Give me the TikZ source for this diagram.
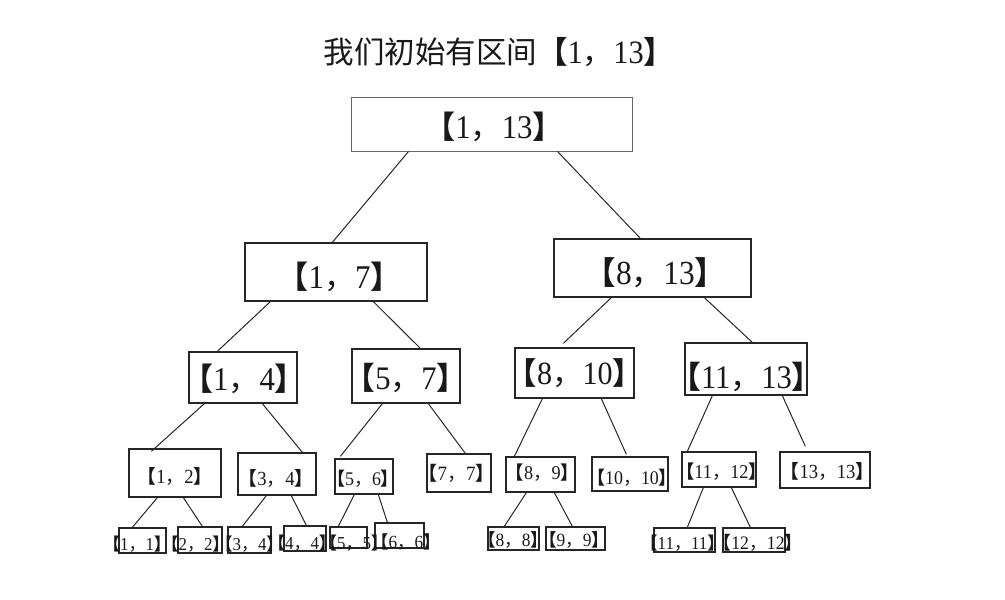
\documentclass[tikz,border=0pt]{standalone}
\usepackage{fontspec}
\newfontfamily\cjk{Noto Sans CJK SC}
\newfontfamily\dig{Liberation Serif}[Scale=1.07,FakeStretch=0.93]
\usetikzlibrary{calc}
\newcommand\iv[2]{{\cjk\bfseries 【}{\dig #1}{\cjk ，}{\dig #2}{\cjk\bfseries 】}}
\newcommand\fs[1]{\fontsize{#1}{#1}\selectfont}
\begin{document}
\begin{tikzpicture}[x=1pt,y=-1pt,
  ibox/.style={draw=black!85,line width=1.3pt,inner sep=0pt,rectangle},
  lbl/.style={inner sep=0pt,text=black!90},
  edge/.style={draw=black!85,line width=1pt}]
\path[use as bounding box] (0,0) rectangle (1005,600);
% title
\node[lbl] (title) at (499,52) {\fs{30.5}{\cjk 我们初始有区间}\iv{1}{13}};
% boxes
\node[ibox,draw=black!60,line width=1pt,minimum width=281pt,minimum height=54pt] (root) at (491.5,124) {};
\node[ibox,minimum width=182pt,minimum height=58pt] (n17) at (336,272) {};
\node[ibox,minimum width=197pt,minimum height=58pt] (n813) at (652.5,268) {};
\node[ibox,minimum width=108pt,minimum height=51pt] (n14) at (243,377.5) {};
\node[ibox,minimum width=108pt,minimum height=54pt] (n57) at (406,376) {};
\node[ibox,minimum width=119pt,minimum height=50pt] (n810) at (574.5,373) {};
\node[ibox,minimum width=122pt,minimum height=52pt] (n1113) at (746,369) {};
\node[ibox,minimum width=92pt,minimum height=48pt] (n12) at (175,473) {};
\node[ibox,minimum width=78pt,minimum height=42pt] (n34) at (277,474) {};
\node[ibox,minimum width=58pt,minimum height=35pt] (n56) at (364,476.5) {};
\node[ibox,minimum width=64pt,minimum height=38pt] (n77) at (459,473) {};
\node[ibox,minimum width=69pt,minimum height=35pt] (n89) at (540.5,474.5) {};
\node[ibox,minimum width=76pt,minimum height=34pt] (n1010) at (630,474) {};
\node[ibox,minimum width=74pt,minimum height=35pt] (n1112) at (719,469.5) {};
\node[ibox,minimum width=90pt,minimum height=36pt] (n1313) at (825,470) {};
\node[ibox,minimum width=47pt,minimum height=25pt] (l11) at (142.5,540.5) {};
\node[ibox,minimum width=44pt,minimum height=26pt] (l22) at (200,540) {};
\node[ibox,minimum width=43pt,minimum height=26pt] (l33) at (249.5,540) {};
\node[ibox,minimum width=42pt,minimum height=25pt] (l44) at (305,538.5) {};
\node[ibox,minimum width=37pt,minimum height=21pt] (l55) at (348.5,537.5) {};
\node[ibox,minimum width=49pt,minimum height=25pt] (l66) at (399.5,535.5) {};
\node[ibox,minimum width=51pt,minimum height=23pt] (l88) at (513.5,538.5) {};
\node[ibox,minimum width=59pt,minimum height=23pt] (l99) at (575.5,538.5) {};
\node[ibox,minimum width=61pt,minimum height=24pt] (l1111) at (684.5,540) {};
\node[ibox,minimum width=62pt,minimum height=24pt] (l1212) at (754,540) {};
% labels
\node[lbl] (troot) at (494,127) {\fs{31}\iv{1}{13}};
\node[lbl] (t17) at (339.5,277) {\fs{31}\iv{1}{7}};
\node[lbl] (t813) at (655.5,273) {\fs{31.5}\iv{8}{13}};
\node[lbl] (t14) at (244,379) {\fs{31}\iv{1}{4}};
\node[lbl] (t57) at (406,378) {\fs{30.7}\iv{5}{7}};
\node[lbl] (t810) at (575,373) {\fs{30.3}\iv{8}{10}};
\node[lbl] (t1113) at (746.5,377) {\fs{30.8}\iv{11}{13}};
\node[lbl] (t12) at (175,477) {\fs{18.7}\iv{1}{2}};
\node[lbl] (t34) at (276,479) {\fs{18.7}\iv{3}{4}};
\node[lbl] (t56) at (363,479) {\fs{18}\iv{5}{6}};
\node[lbl] (t77) at (456.5,473) {\fs{19}\iv{7}{7}};
\node[lbl] (t89) at (542.5,473) {\fs{18.3}\iv{8}{9}};
\node[lbl] (t1010) at (632,478) {\fs{18}\iv{10}{10}};
\node[lbl] (t1112) at (721.5,472) {\fs{18.3}\iv{11}{12}};
\node[lbl] (t1313) at (827.5,472) {\fs{18.7}\iv{13}{13}};
\node[lbl] (s11) at (137,544) {\fs{17}\iv{1}{1}};
\node[lbl] (s22) at (195.5,544) {\fs{17}\iv{2}{2}};
\node[lbl] (s33) at (249.5,544) {\fs{17}\iv{3}{4}};
\node[lbl] (s44) at (302,543) {\fs{17}\iv{4}{4}};
\node[lbl] (s55) at (354,543) {\fs{17}\iv{5}{5}};
\node[lbl] (s66) at (406,542) {\fs{17.3}\iv{6}{6}};
\node[lbl] (s88) at (513,540) {\fs{17.5}\iv{8}{8}};
\node[lbl] (s99) at (574,540) {\fs{17.5}\iv{9}{9}};
\node[lbl] (s1111) at (682.5,543) {\fs{17}\iv{11}{11}};
\node[lbl] (s1212) at (758,543) {\fs{17.8}\iv{12}{12}};
% edges
\draw[edge] ($(root.south west)+(58,0)$) -- ($(n17.north west)+(88,0)$);
\draw[edge] ($(root.south west)+(207,0)$) -- ($(n813.north west)+(87,0)$);
\draw[edge] ($(n17.south west)+(26,0)$) -- ($(n14.north west)+(29,0)$);
\draw[edge] ($(n17.south west)+(129,0)$) -- ($(n57.north west)+(69,0)$);
\draw[edge] ($(n813.south west)+(58,0)$) -- ($(n810.north west)+(49,-4)$);
\draw[edge] ($(n813.south west)+(151,0)$) -- ($(n1113.north west)+(68,0)$);
\draw[edge] ($(n14.south west)+(16,0)$) -- ($(n12.north west)+(23,3)$);
\draw[edge] ($(n14.south west)+(74,0)$) -- ($(n34.north west)+(65,0)$);
\draw[edge] ($(n57.south west)+(31,0)$) -- ($(n56.north west)+(6,-2)$);
\draw[edge] ($(n57.south west)+(77,0)$) -- ($(n77.north west)+(39,0)$);
\draw[edge] ($(n810.south west)+(28,0)$) -- ($(n89.north west)+(9,0)$);
\draw[edge] ($(n810.south west)+(87,0)$) -- ($(n1010.north west)+(35,-2)$);
\draw[edge] ($(n1113.south west)+(28,0)$) -- ($(n1112.north west)+(6,0)$);
\draw[edge] ($(n1113.south west)+(98,0)$) -- ($(n1313.north west)+(26,-5)$);
\draw[edge] ($(n12.south west)+(29,0)$) -- ($(l11.north west)+(14,0)$);
\draw[edge] ($(n12.south west)+(55,0)$) -- ($(l22.north west)+(25,0)$);
\draw[edge] ($(n34.south west)+(29,0)$) -- ($(l33.north west)+(15,0)$);
\draw[edge] ($(n34.south west)+(54,0)$) -- ($(l44.north west)+(23,0)$);
\draw[edge] ($(n56.south west)+(20,0)$) -- ($(l55.north west)+(9,0)$);
\draw[edge] ($(n56.south west)+(44,0)$) -- ($(l66.north west)+(13,0)$);
\draw[edge] ($(n89.south west)+(21,0)$) -- ($(l88.north west)+(17,0)$);
\draw[edge] ($(n89.south west)+(49,0)$) -- ($(l99.north west)+(27,0)$);
\draw[edge] ($(n1112.south west)+(22,0)$) -- ($(l1111.north west)+(34,0)$);
\draw[edge] ($(n1112.south west)+(50,0)$) -- ($(l1212.north west)+(28,0)$);
\end{tikzpicture}
\end{document}
